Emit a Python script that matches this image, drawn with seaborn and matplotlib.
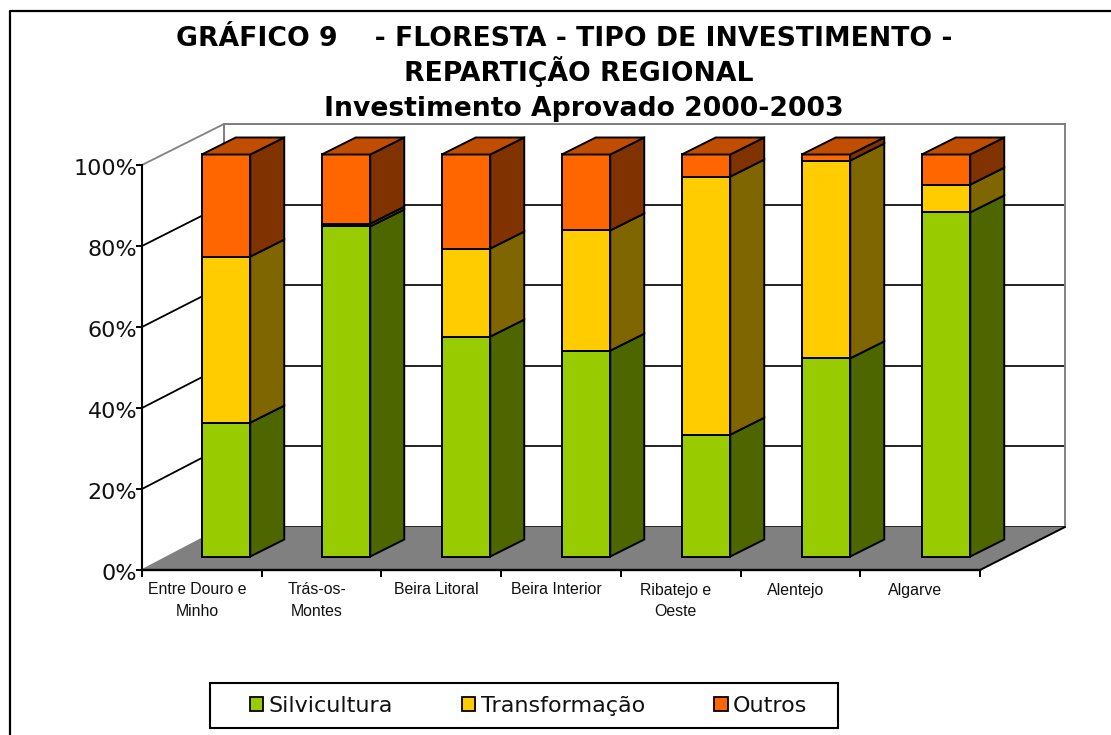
import numpy as np
import matplotlib
matplotlib.use("Agg")
import matplotlib.pyplot as plt
from matplotlib.lines import Line2D
from matplotlib.patches import Patch, Polygon, Rectangle
from matplotlib.transforms import ScaledTranslation
import seaborn as sns

# dados
regioes = ["Entre Douro e\nMinho", "Trás-os-\nMontes", "Beira Litoral", "Beira Interior",
           "Ribatejo e\nOeste", "Alentejo", "Algarve"]
silvicultura = [33.3, 82.1, 54.7, 51.2, 30.3, 49.3, 85.6]
transformacao = [41.3, 0.7, 21.9, 29.9, 64.2, 49.2, 6.9]
outros = [25.4, 17.2, 23.4, 18.9, 5.5, 1.5, 7.5]
series = ["Silvicultura", "Transformação", "Outros"]
cores = ["#99CC00", "#FFCC00", "#FF6600"]
cores_lado = ["#4D6600", "#806600", "#803300"]
cor_topo = "#C04D00"
ticks_y = [0, 20, 40, 60, 80, 100]
titulo = ["GRÁFICO 9    - FLORESTA - TIPO DE INVESTIMENTO -",
          "REPARTIÇÃO REGIONAL",
          "Investimento Aprovado 2000-2003"]

W, H = 1111, 735
sns.set_theme(style="white")
plt.rcParams["font.family"] = ["DejaVu Sans"]

fig = plt.figure(figsize=(W / 100, H / 100), dpi=100, facecolor="white")


def caixa(x0, x1, ytop, ybot):
    # px -> fracao da figura
    return [x0 / W, 1 - ybot / H, (x1 - x0) / W, (ybot - ytop) / H]


def pf(x, y):
    return (x / W, 1 - y / H)


# borda do grafico (so esquerda e topo aparecem)
fig.add_artist(Line2D([10 / W, 10 / W, 1], [0, 1 - 10.5 / H, 1 - 10.5 / H], color="black", lw=1.6))

# parede do fundo
ax_back = fig.add_axes(caixa(224, 1065, 124, 527), zorder=1)
ax_back.set_xlim(0, 7)
ax_back.set_ylim(0, 100)
ax_back.set_yticks(ticks_y)
ax_back.set_xticks([])
ax_back.set_yticklabels([])
ax_back.grid(axis="y", color="#111111", lw=1.3)
ax_back.set_axisbelow(True)
for s in ax_back.spines.values():
    s.set_color("#808080")
    s.set_linewidth(1.4)
ax_back.spines["bottom"].set_visible(False)

# chao
fig.add_artist(Polygon([pf(142, 570), pf(980, 570), pf(1065, 527), pf(224, 527)], closed=True,
                       transform=fig.transFigure, facecolor="#808080", edgecolor="none", zorder=1.5))
fig.add_artist(Line2D([980 / W, 1065 / W], [1 - 570 / H, 1 - 527 / H], color="black", lw=1.4, zorder=1.6))

# eixo da frente
ax_front = fig.add_axes(caixa(142, 980, 165, 570), zorder=2)
ax_front.patch.set_alpha(0)
ax_front.set_xlim(0, 7)
ax_front.set_ylim(0, 100)
ax_front.spines["top"].set_visible(False)
ax_front.spines["right"].set_visible(False)
ax_front.spines["left"].set_linewidth(1.5)
ax_front.spines["bottom"].set_linewidth(1.7)
ax_front.spines["left"].set_color("black")
ax_front.spines["bottom"].set_color("black")
ax_front.set_yticks(ticks_y)
ax_front.set_yticklabels(["%d%%" % t for t in ticks_y], fontsize=16, color="#111111")
ax_front.tick_params(axis="y", left=True, length=4.5, width=1.4, pad=-1, color="black")
desce = ScaledTranslation(0, -2 / 100, fig.dpi_scale_trans)
for lb in ax_front.get_yticklabels():
    lb.set_transform(lb.get_transform() + desce)
ax_front.set_xticks(np.arange(8))
ax_front.set_xticklabels([])
ax_front.tick_params(axis="x", bottom=True, length=5, width=1.4, color="black")
ax_front.set_xticks(np.arange(7) + 0.5, minor=True)
ax_front.set_xticklabels(regioes, minor=True, fontsize=11.4, family="Liberation Sans",
                         color="#111111", linespacing=1.5, va="top")
ax_front.tick_params(axis="x", which="minor", bottom=False, length=0, pad=9)
desloca = ScaledTranslation(-5 / 100, 0, fig.dpi_scale_trans)
for lb in ax_front.get_xticklabels(minor=True):
    lb.set_transform(lb.get_transform() + desloca)

# linhas obliquas da parede esquerda
for t in ticks_y:
    y0 = 570 - 405 * t / 100
    y1 = 527 - 403 * t / 100
    cor = "black" if 0 < t < 100 else "#808080"
    fig.add_artist(Line2D([142 / W, 224 / W], [1 - y0 / H, 1 - y1 / H], color=cor, lw=1.3, zorder=1.7))
fig.add_artist(Line2D([224 / W, 224 / W], [1 - 124 / H, 1 - 527 / H], color="#808080", lw=1.4, zorder=1.7))

# barras
ax = fig.add_axes(caixa(166, 1006, 154.5, 556.5), zorder=3)
ax.patch.set_alpha(0)
base = np.zeros(7)
dx = 34 / 120
dy = 17 / 402 * 100
for nome, vals, cor, lado in zip(series, [silvicultura, transformacao, outros], cores, cores_lado):
    n0 = len(ax.patches)
    sns.barplot(x=regioes, y=vals, bottom=base, color=cor, saturation=1, width=0.404,
                edgecolor="black", linewidth=1.4, errorbar=None, ax=ax)
    for p in ax.patches[n0:]:
        x0, x1 = p.get_x(), p.get_x() + p.get_width()
        y0, y1 = p.get_y(), p.get_y() + p.get_height()
        ax.add_patch(Polygon([(x1, y0), (x1 + dx, y0 + dy), (x1 + dx, y1 + dy), (x1, y1)], closed=True,
                             facecolor=lado, edgecolor="black", lw=1.4, clip_on=False, zorder=2))
        if nome == "Outros":
            ax.add_patch(Polygon([(x0, y1), (x0 + dx, y1 + dy), (x1 + dx, y1 + dy), (x1, y1)], closed=True,
                                 facecolor=cor_topo, edgecolor="black", lw=1.4, clip_on=False, zorder=2))
    base = base + np.array(vals)
ax.set_ylim(0, 100)
ax.set_xlim(-0.5, 6.5)
ax.axis("off")
for p in ax.patches:
    p.set_clip_on(False)

# titulo, uma linha de cada vez
for linha, xc, yb in zip(titulo, [564, 579, 584], [46, 81, 116]):
    fig.text(xc / W, 1 - yb / H, linha, ha="center", va="baseline", fontsize=19.2, fontweight="bold",
             color="black", zorder=5)

# legenda
fig.add_artist(Rectangle((210 / W, 1 - 728 / H), 628 / W, 45 / H, transform=fig.transFigure,
                         facecolor="white", edgecolor="black", lw=1.5, zorder=4))
handles = [Patch(facecolor=c, edgecolor="black", lw=1.3) for c in cores]
leg = fig.legend(handles, series, ncol=3, loc="center left", fontsize=16,
                 bbox_to_anchor=pf(250, 705.5), bbox_transform=fig.transFigure,
                 frameon=False, borderaxespad=0, borderpad=0,
                 handlelength=0.6, handleheight=0.6, handletextpad=0.25, columnspacing=3.1,
                 labelcolor="#111111")
leg.set_zorder(6)

fig.savefig("out.png", dpi=100)
